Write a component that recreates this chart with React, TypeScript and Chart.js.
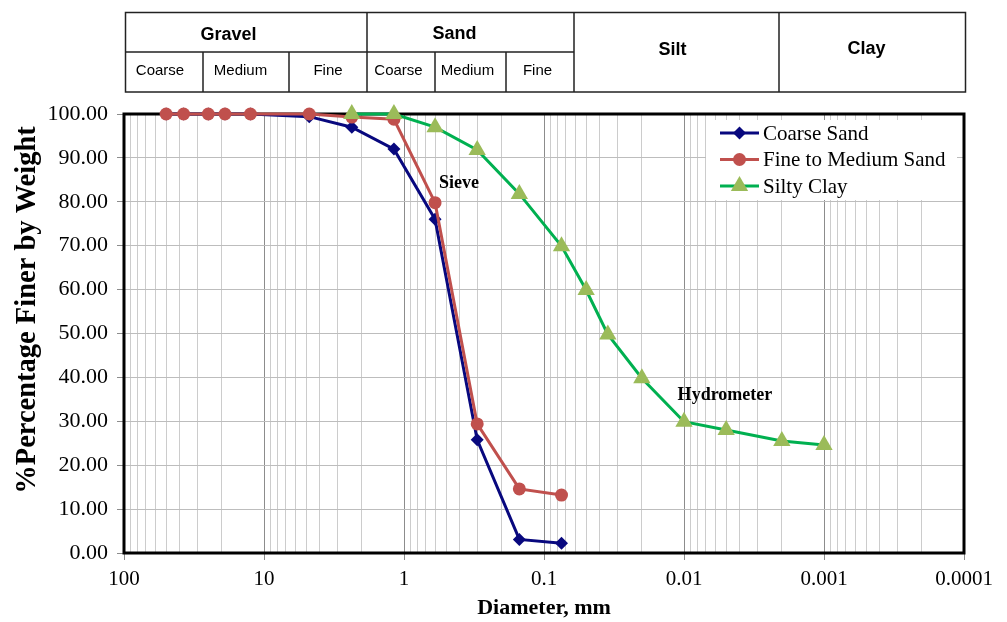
import React, { useEffect, useRef } from "react";
import { Chart, registerables } from "chart.js";

Chart.register(...registerables);

// ---------- data ----------
const sieveSizes = [50, 37.5, 25, 19, 12.5, 4.75, 2.36, 1.18, 0.6, 0.3, 0.15, 0.075];
const coarseSand = [100, 100, 100, 100, 100, 99.4, 97.0, 92.0, 76.0, 25.8, 3.1, 2.2];
const fineMediumSand = [100, 100, 100, 100, 100, 100, 99.3, 98.8, 79.8, 29.4, 14.6, 13.2];
const hydroSizes = [2.36, 1.18, 0.6, 0.3, 0.15, 0.075, 0.05, 0.035, 0.02, 0.01, 0.005, 0.002, 0.001];
const siltyClay = [100, 100, 97.0, 91.8, 81.8, 69.9, 59.9, 49.8, 39.8, 29.9, 28.0, 25.5, 24.6];

const seriesNames = ["Coarse Sand", "Fine to Medium Sand", "Silty Clay"];
const xTickLabels = ["100", "10", "1", "0.1", "0.01", "0.001", "0.0001"];
const xTitle = "Diameter, mm";
const yTitle = "%Percentage Finer by Weight";
const tableMain = ["Gravel", "Sand", "Silt", "Clay"];
const tableSub = ["Coarse", "Medium", "Fine", "Coarse", "Medium", "Fine"];
const annotationTexts = ["Sieve", "Hydrometer"];

// ---------- layout / style ----------
const SERIF = '"Liberation Serif", "Times New Roman", serif';
const SANS = '"Liberation Sans", Arial, sans-serif';
const colors = {
  blue: "#08087e",
  red: "#c0504d",
  greenLine: "#00b050",
  greenMarker: "#9bbb59",
};
const annotationAnchors = [
  { x: 0.405, y: 84.3 },
  { x: 0.0051, y: 36.0 },
];
const Y_TITLE_POS = { x: 28, y: 310 };
// table geometry (px)
const TABLE = {
  left: 125.5,
  right: 965.5,
  top: 12.5,
  mid: 52,
  bottom: 92,
  fullVerticals: [367, 574, 779],
  subVerticals: [203, 289, 435, 506],
  subLineRight: 574,
  mainLabelPos: [
    { x: 228.5, y: 35 },
    { x: 454.5, y: 34 },
    { x: 672.5, y: 50.5 },
    { x: 866.5, y: 49.5 },
  ],
  subLabelPos: [160, 240.5, 328, 398.5, 467.5, 537.5],
  subLabelY: 71,
};
const LEGEND = { x: 706, y: 120, w: 251, h: 80, lineX0: 720, lineX1: 759, textX: 763, rows: [133, 159.5, 186] };

function isDecade(v: number) {
  const l = Math.log10(v);
  return Math.abs(l - Math.round(l)) < 1e-9;
}

function drawMarker(ctx: CanvasRenderingContext2D, style: string, x: number, y: number, r: number, color: string) {
  ctx.save();
  ctx.fillStyle = color;
  ctx.beginPath();
  if (style === "circle") {
    ctx.arc(x, y, r, 0, Math.PI * 2);
  } else if (style === "rectRot") {
    ctx.moveTo(x, y - r);
    ctx.lineTo(x + r, y);
    ctx.lineTo(x, y + r);
    ctx.lineTo(x - r, y);
    ctx.closePath();
  } else {
    const w = r * Math.sin((2 * Math.PI) / 3);
    ctx.moveTo(x, y - r);
    ctx.lineTo(x + w, y + r / 2);
    ctx.lineTo(x - w, y + r / 2);
    ctx.closePath();
  }
  ctx.fill();
  ctx.restore();
}

const markerStyles = ["rectRot", "circle", "triangle"];
const markerRadius = [6.5, 6.5, 10];
const lineColors = [colors.blue, colors.red, colors.greenLine];
const markerColors = [colors.blue, colors.red, colors.greenMarker];

const borderPlugin = {
  id: "plotBorder",
  beforeDatasetsDraw(chart: any) {
    const { ctx, chartArea } = chart;
    ctx.save();
    ctx.strokeStyle = "#000";
    ctx.lineWidth = 3;
    ctx.strokeRect(chartArea.left, chartArea.top, chartArea.right - chartArea.left, chartArea.bottom - chartArea.top);
    ctx.restore();
  },
};

const overlayPlugin = {
  id: "overlay",
  afterDatasetsDraw(chart: any) {
    const { ctx } = chart;
    const xs = chart.scales.x;
    const ys = chart.scales.y;
    // annotations
    ctx.save();
    ctx.fillStyle = "#000";
    ctx.font = `bold 18px ${SERIF}`;
    ctx.textAlign = "center";
    ctx.textBaseline = "middle";
    annotationTexts.forEach((t, i) => {
      const a = annotationAnchors[i];
      ctx.fillText(t, xs.getPixelForValue(a.x), ys.getPixelForValue(a.y));
    });
    ctx.restore();

    // legend
    ctx.save();
    ctx.fillStyle = "#fff";
    ctx.fillRect(LEGEND.x, LEGEND.y, LEGEND.w, LEGEND.h);
    seriesNames.forEach((name, i) => {
      const y = LEGEND.rows[i];
      ctx.strokeStyle = lineColors[i];
      ctx.lineWidth = 3;
      ctx.beginPath();
      ctx.moveTo(LEGEND.lineX0, y);
      ctx.lineTo(LEGEND.lineX1, y);
      ctx.stroke();
      drawMarker(ctx, markerStyles[i], (LEGEND.lineX0 + LEGEND.lineX1) / 2, y, markerRadius[i], markerColors[i]);
      ctx.fillStyle = "#000";
      ctx.font = `21px ${SERIF}`;
      ctx.textAlign = "left";
      ctx.textBaseline = "middle";
      ctx.fillText(name, LEGEND.textX, y + 1);
    });
    ctx.restore();
  },
  afterDraw(chart: any) {
    const { ctx } = chart;
    // y axis title
    ctx.save();
    ctx.translate(Y_TITLE_POS.x, Y_TITLE_POS.y);
    ctx.rotate(-Math.PI / 2);
    ctx.fillStyle = "#000";
    ctx.font = `bold 28.5px ${SERIF}`;
    ctx.textAlign = "center";
    ctx.textBaseline = "middle";
    ctx.fillText(yTitle, 0, 0);
    ctx.restore();

    // classification table
    ctx.save();
    ctx.strokeStyle = "#222";
    ctx.lineWidth = 1.5;
    ctx.strokeRect(TABLE.left, TABLE.top, TABLE.right - TABLE.left, TABLE.bottom - TABLE.top);
    ctx.beginPath();
    ctx.moveTo(TABLE.left, TABLE.mid);
    ctx.lineTo(TABLE.subLineRight, TABLE.mid);
    TABLE.fullVerticals.forEach((x) => {
      ctx.moveTo(x, TABLE.top);
      ctx.lineTo(x, TABLE.bottom);
    });
    TABLE.subVerticals.forEach((x) => {
      ctx.moveTo(x, TABLE.mid);
      ctx.lineTo(x, TABLE.bottom);
    });
    ctx.stroke();
    ctx.fillStyle = "#000";
    ctx.textAlign = "center";
    ctx.textBaseline = "middle";
    ctx.font = `bold 18px ${SANS}`;
    tableMain.forEach((t, i) => {
      const p = TABLE.mainLabelPos[i];
      ctx.fillText(t, p.x, p.y);
    });
    ctx.font = `15px ${SANS}`;
    tableSub.forEach((t, i) => {
      ctx.fillText(t, TABLE.subLabelPos[i], TABLE.subLabelY);
    });
    ctx.restore();
  },
};

export default function App() {
  const canvasRef = useRef<HTMLCanvasElement | null>(null);

  useEffect(() => {
    const canvas = canvasRef.current;
    if (!canvas) return;

    const mk = (xs: number[], ys: number[]) => xs.map((x, i) => ({ x, y: ys[i] }));

    const chart = new Chart(canvas, {
      type: "line",
      data: {
        datasets: [
          {
            label: seriesNames[0],
            data: mk(sieveSizes, coarseSand),
            borderColor: colors.blue,
            backgroundColor: colors.blue,
            pointStyle: "rectRot",
            pointRadius: markerRadius[0],
            pointBorderWidth: 0,
            borderWidth: 3,
            tension: 0,
            clip: false as any,
            order: 3,
          },
          {
            label: seriesNames[1],
            data: mk(sieveSizes, fineMediumSand),
            borderColor: colors.red,
            backgroundColor: colors.red,
            pointStyle: "circle",
            pointRadius: markerRadius[1],
            pointBorderWidth: 0,
            borderWidth: 3,
            tension: 0,
            clip: false as any,
            order: 2,
          },
          {
            label: seriesNames[2],
            data: mk(hydroSizes, siltyClay),
            borderColor: colors.greenLine,
            backgroundColor: colors.greenMarker,
            pointBackgroundColor: colors.greenMarker,
            pointBorderColor: colors.greenMarker,
            pointStyle: "triangle",
            pointRadius: markerRadius[2],
            pointBorderWidth: 0,
            borderWidth: 3,
            tension: 0,
            clip: false as any,
            order: 1,
          },
        ],
      },
      options: {
        animation: false,
        responsive: false,
        devicePixelRatio: 1,
        events: [],
        layout: { padding: { left: 0, top: 114, right: 43, bottom: 0 } },
        plugins: {
          legend: { display: false },
          tooltip: { enabled: false },
          title: { display: false },
        },
        scales: {
          x: {
            type: "logarithmic",
            reverse: true,
            min: 0.0001,
            max: 100,
            border: { display: false },
            afterFit(scale: any) {
              scale.height = 69;
            },
            afterBuildTicks(scale: any) {
              const vals: { value: number }[] = [];
              for (let e = -4; e <= 1; e++) {
                for (let k = 1; k <= 9; k++) {
                  vals.push({ value: parseFloat((k * Math.pow(10, e)).toPrecision(6)) });
                }
              }
              vals.push({ value: 100 });
              scale.ticks = vals;
            },
            grid: {
              color: (c: any) => (c.tick && isDecade(c.tick.value) ? "#8c8c8c" : "#cccccc"),
              tickColor: (c: any) => (c.tick && isDecade(c.tick.value) ? "#8c8c8c" : "rgba(0,0,0,0)"),
              tickLength: 7,
              lineWidth: 1,
            },
            ticks: {
              autoSkip: false,
              maxRotation: 0,
              minRotation: 0,
              padding: 7,
              color: "#000",
              font: { family: SERIF, size: 21 },
              callback: (v: any) => {
                const n = Number(v);
                if (!isDecade(n)) return "";
                const idx = 2 - Math.round(Math.log10(n));
                return xTickLabels[idx];
              },
            },
            title: {
              display: true,
              text: xTitle,
              color: "#000",
              font: { family: SERIF, size: 22, weight: "bold" },
              padding: { top: 0, bottom: 0 },
            },
          },
          y: {
            type: "linear",
            min: 0,
            max: 100,
            border: { display: false },
            afterFit(scale: any) {
              scale.width = 124;
            },
            grid: {
              color: "#bdbdbd",
              tickColor: "#8c8c8c",
              tickLength: 7,
              lineWidth: 1,
            },
            ticks: {
              stepSize: 10,
              padding: 9,
              color: "#000",
              font: { family: SERIF, size: 22 },
              callback: (v: any) => Number(v).toFixed(2),
            },
            title: { display: false },
          },
        },
      },
      plugins: [borderPlugin, overlayPlugin],
    } as any);

    return () => chart.destroy();
  }, []);

  return (
    <div style={{ position: "absolute", left: 0, top: 0, width: 1007, height: 622, background: "#fff" }}>
      <canvas ref={canvasRef} width={1007} height={622} style={{ display: "block" }} />
    </div>
  );
}
